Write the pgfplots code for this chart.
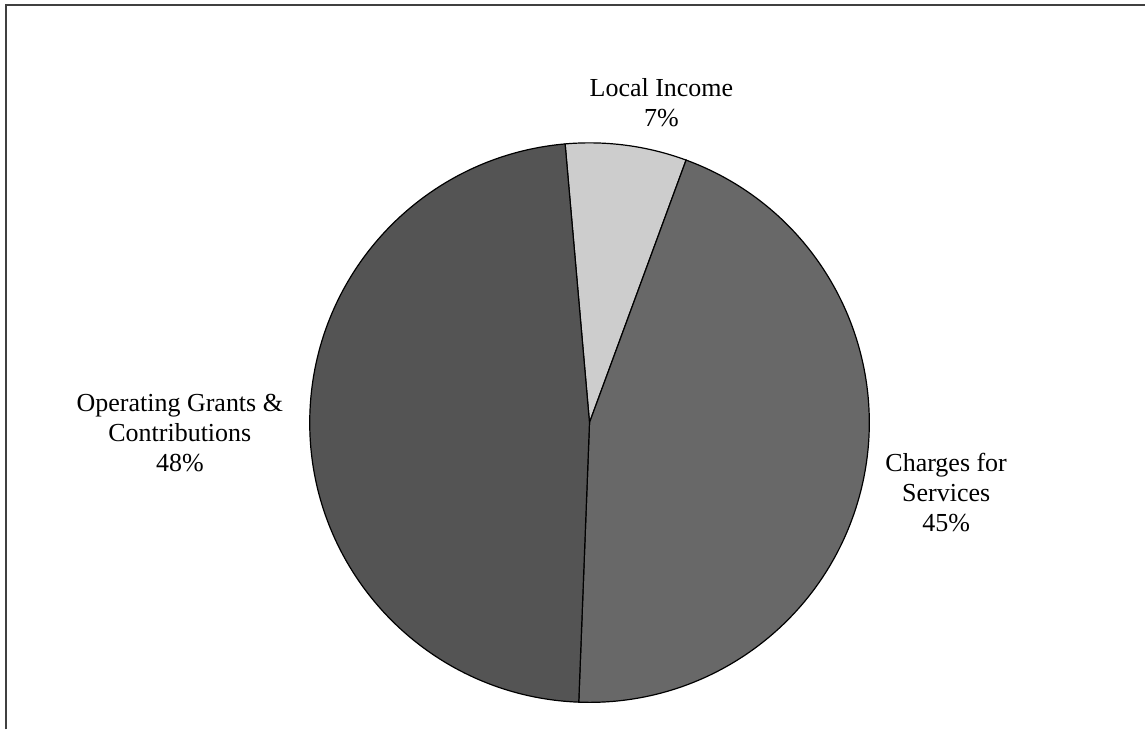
\documentclass[border=0pt]{standalone}
\usepackage{fontspec}
\setmainfont{Liberation Serif}
\usepackage{pgfplots}
\usepackage{pgfplotstable}
\pgfplotsset{compat=1.18}

\definecolor{grantgray}{RGB}{84,84,84}
\definecolor{chargegray}{RGB}{104,104,104}
\definecolor{localgray}{RGB}{205,205,205}

% revenue shares in percent
\pgfplotstableread[col sep=comma]{
name,value
Local Income,7
Charges for Services,45
Operating Grants,48
}\piedata

\begin{document}
\begin{tikzpicture}
\pgfplotstablegetelem{0}{value}\of\piedata \let\vA\pgfplotsretval
\pgfplotstablegetelem{1}{value}\of\piedata \let\vB\pgfplotsretval
\pgfplotstablegetelem{2}{value}\of\piedata \let\vC\pgfplotsretval
% slices run clockwise from just left of 12 o'clock
\pgfmathsetmacro\aA{95}
\pgfmathsetmacro\aB{\aA-3.6*\vA}
\pgfmathsetmacro\aC{\aB-3.6*\vB}
\pgfmathsetmacro\aD{\aC-3.6*\vC}
\begin{axis}[
    scale only axis,
    width=573pt, height=365pt,
    xmin=0, xmax=1146, ymin=0, ymax=730,
    hide axis, clip=false,
]
\path (axis cs:0,0) rectangle (axis cs:1146,730);
% frame (top and left edge only)
\draw[line width=1pt, black!75] (axis cs:6,0) -- (axis cs:6,725) -- (axis cs:1146,725);

\fill[localgray, draw=black, line width=0.6pt]
  (axis cs:590,307) -- ++(\aA:140pt) arc[start angle=\aA, end angle=\aB, radius=140pt] -- cycle;
\fill[chargegray, draw=black, line width=0.6pt]
  (axis cs:590,307) -- ++(\aB:140pt) arc[start angle=\aB, end angle=\aC, radius=140pt] -- cycle;
\fill[grantgray, draw=black, line width=0.6pt]
  (axis cs:590,307) -- ++(\aC:140pt) arc[start angle=\aC, end angle=\aD, radius=140pt] -- cycle;

\node[align=center, font=\fontsize{13}{15}\selectfont] at (axis cs:662,627)
  {Local Income\\\vA\%};
\node[align=center, font=\fontsize{13}{15}\selectfont] at (axis cs:947,237)
  {Charges for\\Services\\\vB\%};
\node[align=center, font=\fontsize{13}{15}\selectfont] at (axis cs:180,297)
  {Operating Grants \&\\Contributions\\\vC\%};
\end{axis}
\end{tikzpicture}
\end{document}
